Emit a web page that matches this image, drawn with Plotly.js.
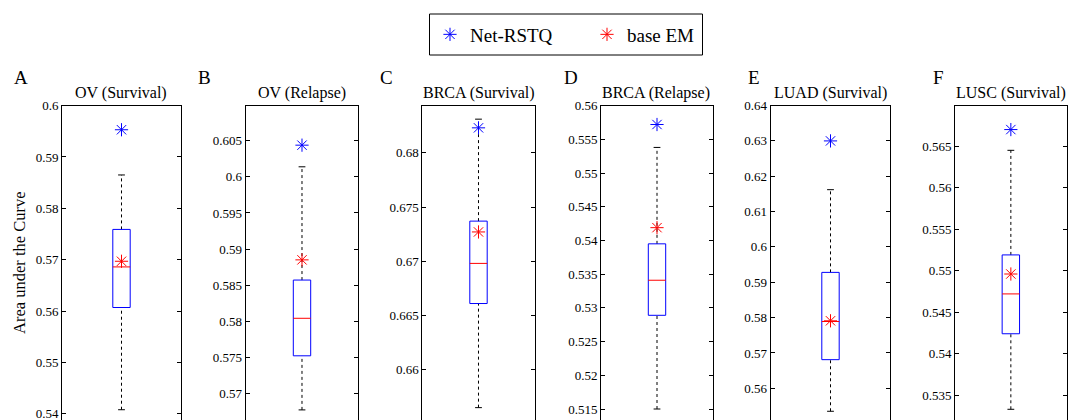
<!DOCTYPE html>
<html>
<head>
<meta charset="utf-8">
<script src="https://cdn.plot.ly/plotly-3.0.1.min.js"></script>
<style>html,body{margin:0;padding:0;background:#fff;}#chart{width:1073px;height:420px;}</style>
</head>
<body>
<div id="chart"></div>
<script>
// ---- data ----
const panelTitles = ['OV (Survival)', 'OV (Relapse)', 'BRCA (Survival)', 'BRCA (Relapse)', 'LUAD (Survival)', 'LUSC (Survival)'];
const panelLetters = ['A', 'B', 'C', 'D', 'E', 'F'];
const lowerWhisker = [0.5408, 0.5677, 0.6565, 0.5150, 0.5535, 0.5333];
const q1Values     = [0.5607, 0.5752, 0.6661, 0.5289, 0.5681, 0.5424];
const medianValues = [0.5686, 0.5804, 0.6698, 0.5341, 0.5789, 0.5472];
const q3Values     = [0.5759, 0.5857, 0.6737, 0.5395, 0.5928, 0.5519];
const upperWhisker = [0.5865, 0.6014, 0.6831, 0.5538, 0.6162, 0.5645];
const netRSTQ      = [0.5953, 0.6044, 0.6823, 0.5572, 0.6300, 0.5670];
const baseEM       = [0.5697, 0.5885, 0.6727, 0.5419, 0.5791, 0.5496];
const seriesNames  = ['Net-RSTQ', 'base EM'];
// axis settings
const yRanges = [[0.5388, 0.60002], [0.5663, 0.6099], [0.65536, 0.68436], [0.51337, 0.56002], [0.55103, 0.64002], [0.53201, 0.5699]];
const yDticks = [0.01, 0.005, 0.005, 0.005, 0.01, 0.005];

// ---- layout geometry (pixels) ----
const W = 1073, H = 420;
const framesPx = [[62, 181], [245.7, 358.3], [422.3, 534.7], [601, 713], [770.7, 890.3], [955, 1066.7]];
const frameTopPx = 105.5;
const boxHalf = 8.7, capHalf = 3.4;
const FONT = 'Liberation Serif';

const traces = [];
const layout = {
  width: W, height: H,
  margin: {l: 0, r: 0, t: 0, b: 0},
  paper_bgcolor: '#fff', plot_bgcolor: '#fff',
  font: {family: FONT, color: '#000', size: 13},
  showlegend: true,
  legend: {
    orientation: 'h', x: 430 / W, xanchor: 'left', y: 1 - 34.5 / H, yanchor: 'middle',
    font: {family: FONT, size: 19, color: '#000'}, bgcolor: 'rgba(0,0,0,0)', borderwidth: 0,
    entrywidth: 112, entrywidthmode: 'pixels', itemwidth: 30
  },
  shapes: [{type: 'rect', xref: 'paper', yref: 'paper', x0: 429.5 / W, x1: 702.5 / W, y0: 1 - 55 / H, y1: 1 - 14 / H,
            line: {color: '#000', width: 1}, fillcolor: 'rgba(0,0,0,0)'}],
  annotations: []
};

panelTitles.forEach((title, i) => {
  const n = i + 1;
  const xa = 'x' + (n === 1 ? '' : n), ya = 'y' + (n === 1 ? '' : n);
  const fw = framesPx[i][1] - framesPx[i][0];
  const common = {xaxis: xa, yaxis: ya, hoverinfo: 'skip', showlegend: false};
  // whiskers
  traces.push(Object.assign({type: 'scatter', mode: 'lines', x: [0, 0], y: [q3Values[i], upperWhisker[i]],
    line: {color: '#000', width: 1, dash: '3px,3px'}}, common));
  traces.push(Object.assign({type: 'scatter', mode: 'lines', x: [0, 0], y: [lowerWhisker[i], q1Values[i]],
    line: {color: '#000', width: 1, dash: '3px,3px'}}, common));
  // caps
  traces.push(Object.assign({type: 'scatter', mode: 'lines', x: [-capHalf, capHalf], y: [upperWhisker[i], upperWhisker[i]],
    line: {color: '#000', width: 1}}, common));
  traces.push(Object.assign({type: 'scatter', mode: 'lines', x: [-capHalf, capHalf], y: [lowerWhisker[i], lowerWhisker[i]],
    line: {color: '#000', width: 1}}, common));
  // box
  traces.push(Object.assign({type: 'scatter', mode: 'lines', x: [-boxHalf, boxHalf, boxHalf, -boxHalf, -boxHalf],
    y: [q1Values[i], q1Values[i], q3Values[i], q3Values[i], q1Values[i]],
    line: {color: '#0000ff', width: 1}}, common));
  // median
  traces.push(Object.assign({type: 'scatter', mode: 'lines', x: [-boxHalf, boxHalf], y: [medianValues[i], medianValues[i]],
    line: {color: '#ff0000', width: 1}}, common));
  // stars
  traces.push({type: 'scatter', mode: 'markers', x: [0], y: [netRSTQ[i]], xaxis: xa, yaxis: ya, name: seriesNames[0],
    showlegend: i === 0, hoverinfo: 'skip',
    marker: {symbol: 'asterisk-open', size: 11, color: '#0000ff', line: {color: '#0000ff', width: 1}}});
  traces.push({type: 'scatter', mode: 'markers', x: [0], y: [baseEM[i]], xaxis: xa, yaxis: ya, name: seriesNames[1],
    showlegend: i === 0, hoverinfo: 'skip',
    marker: {symbol: 'asterisk-open', size: 11, color: '#ff0000', line: {color: '#ff0000', width: 1}}});

  const xKey = 'xaxis' + (n === 1 ? '' : n), yKey = 'yaxis' + (n === 1 ? '' : n);
  layout[xKey] = {
    domain: [framesPx[i][0] / W, framesPx[i][1] / W], anchor: ya, range: [-fw / 2, fw / 2],
    side: 'top', showline: true, linecolor: '#000', linewidth: 1, mirror: false,
    showticklabels: false, ticks: '', showgrid: false, zeroline: false, fixedrange: true
  };
  layout[yKey] = {
    domain: [0, 1 - frameTopPx / H], anchor: xa, range: yRanges[i], dtick: yDticks[i], tick0: 0,
    showline: true, linecolor: '#000', linewidth: 1, mirror: 'ticks', ticks: 'inside', ticklen: 4,
    tickcolor: '#000', tickwidth: 1, showgrid: false, zeroline: false, ticklabeloverflow: 'allow',
    tickfont: {family: FONT, size: 13, color: '#000'}, fixedrange: true
  };
  if (i === 0) {
    layout[yKey].title = {text: 'Area under the Curve', font: {family: FONT, size: 16.5, color: '#000'}, standoff: 5};
  }
  // subplot title
  layout.annotations.push({text: title, xref: 'paper', yref: 'paper', showarrow: false,
    x: ((framesPx[i][0] + framesPx[i][1]) / 2 + (i === 3 ? -1 : 0)) / W, y: 1 - 93 / H, xanchor: 'center', yanchor: 'middle',
    font: {family: FONT, size: 16, color: '#000'}});
});

const letterX = [12, 196, 378, 562, 746, 931];
panelLetters.forEach((L, i) => {
  layout.annotations.push({text: L, xref: 'paper', yref: 'paper', showarrow: false,
    x: letterX[i] / W, y: 1 - 77 / H, xanchor: 'left', yanchor: 'middle',
    font: {family: FONT, size: 19, color: '#000'}});
});

Plotly.newPlot('chart', traces, layout, {displayModeBar: false, staticPlot: true});
</script>
</body>
</html>
